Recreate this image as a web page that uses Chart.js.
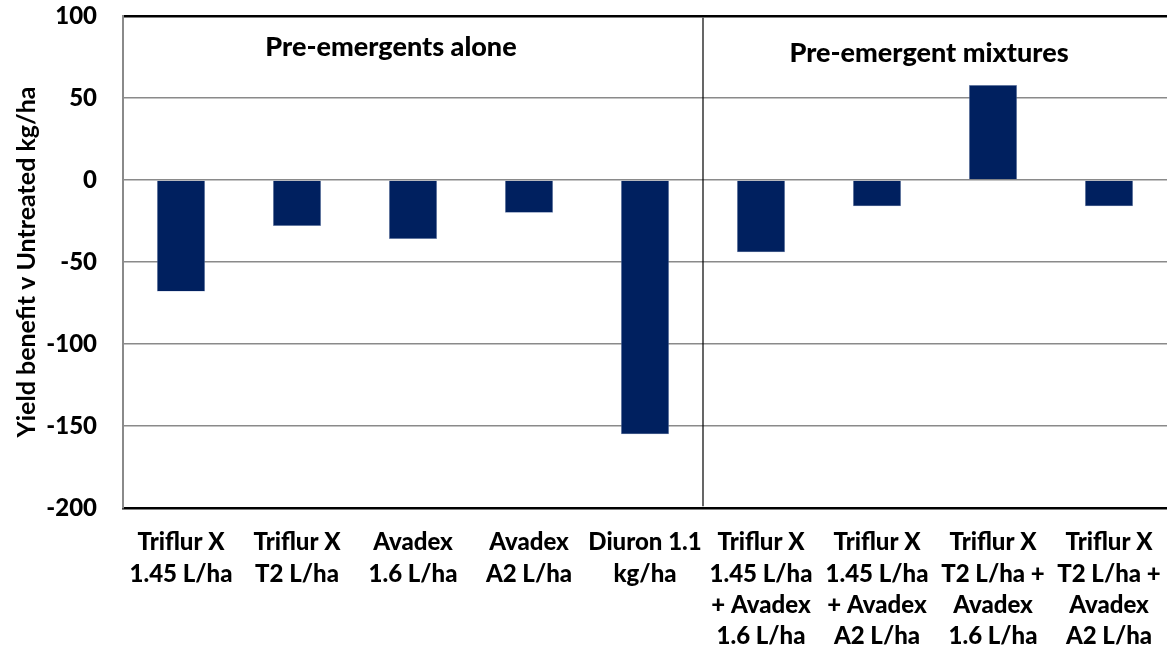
<!DOCTYPE html>
<html>
<head>
<meta charset="utf-8">
<script src="https://cdn.jsdelivr.net/npm/chart.js@4"></script>
<style>
  html, body { margin: 0; padding: 0; background: #fff; }
  #wrap { width: 1167px; height: 654px; }
</style>
</head>
<body>
<div id="wrap"><canvas id="barChart"></canvas></div>
<script>
const labels = [
  ['Triflur X', '1.45 L/ha'],
  ['Triflur X', 'T2 L/ha'],
  ['Avadex', '1.6 L/ha'],
  ['Avadex', 'A2 L/ha'],
  ['Diuron 1.1', 'kg/ha'],
  ['Triflur X', '1.45 L/ha', '+ Avadex', '1.6 L/ha'],
  ['Triflur X', '1.45 L/ha', '+ Avadex', 'A2 L/ha'],
  ['Triflur X', 'T2 L/ha +', 'Avadex', '1.6 L/ha'],
  ['Triflur X', 'T2 L/ha +', 'Avadex', 'A2 L/ha']
];
const yieldBenefit = [-68, -28, -36, -20, -155, -44, -16, 58, -16];
const groupNames = ['Pre-emergents alone', 'Pre-emergent mixtures'];

const font = "Lato, 'Open Sans', sans-serif";

// group headings + divider between the two groups
const groups = {
  id: 'groups',
  afterDatasetsDraw(chart) {
    const c = chart.ctx, x = chart.scales.x, y = chart.scales.y;
    const xDiv = (x.getPixelForTick(4) + x.getPixelForTick(5)) / 2;
    c.save();
    c.strokeStyle = '#000';
    c.lineWidth = 1.2;
    c.beginPath();
    c.moveTo(xDiv, y.getPixelForValue(99));
    c.lineTo(xDiv, y.getPixelForValue(-199));
    c.stroke();
    c.fillStyle = '#000';
    c.font = '900 27px ' + font;
    c.textAlign = 'center';
    c.textBaseline = 'middle';
    c.fillText(groupNames[0], x.getPixelForTick(2) - 22, y.getPixelForValue(81));
    c.fillText(groupNames[1], x.getPixelForTick(7) - 64, y.getPixelForValue(77));
    c.restore();
  }
};

new Chart(document.getElementById('barChart'), {
  type: 'bar',
  data: {
    labels: labels,
    datasets: [{
      data: yieldBenefit,
      backgroundColor: '#00205F',
      borderColor: '#8EA0C4',
      borderWidth: 0.5,
      categoryPercentage: 1,
      barPercentage: 0.414
    }]
  },
  options: {
    responsive: true,
    maintainAspectRatio: false,
    animation: false,
    layout: { padding: { top: 16, right: 0, left: 0, bottom: 0 } },
    plugins: { legend: { display: false }, tooltip: { enabled: false } },
    scales: {
      x: {
        grid: { display: false },
        border: { color: '#000', width: 2.5 },
        ticks: {
          color: '#000',
          font: { family: font, weight: '900', size: 24, lineHeight: 1.3 },
          maxRotation: 0,
          autoSkip: false,
          padding: 11
        },
        afterFit(s) { s.height = 146; s.paddingLeft = 0; s.paddingRight = 0; }
      },
      y: {
        min: -200,
        max: 100,
        ticks: {
          stepSize: 50,
          color: '#000',
          font: { family: font, weight: '900', size: 24 },
          padding: 26
        },
        grid: {
          drawTicks: false,
          color: (ctx) => (ctx.tick && (ctx.tick.value === 100) ? '#000' : '#8a8a8a'),
          lineWidth: (ctx) => (ctx.tick && (ctx.tick.value === 100) ? 2.5 : 1.5)
        },
        border: { color: '#8a8a8a', width: 2 },
        title: {
          display: true,
          text: 'Yield benefit v Untreated kg/ha',
          color: '#000',
          font: { family: font, weight: 'bold', size: 25 },
          padding: { top: 12, bottom: 0 }
        },
        afterFit(s) { s.width = 123; s.paddingTop = 0; s.paddingBottom = 0; }
      }
    }
  },
  plugins: [groups]
});
</script>
</body>
</html>
